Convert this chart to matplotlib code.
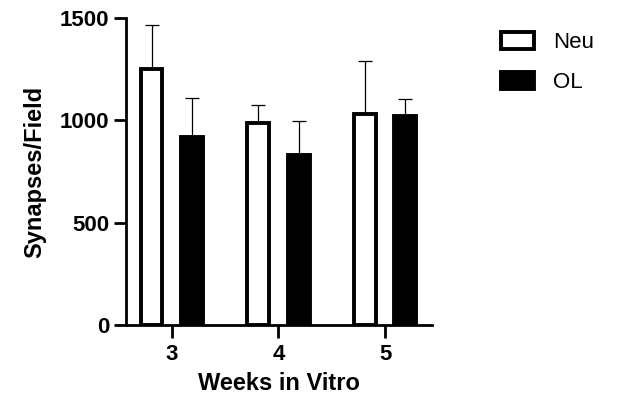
import numpy as np
import matplotlib
matplotlib.use("Agg")
from matplotlib import pyplot as plt

plt.rcParams['font.family'] = ['Liberation Sans', 'DejaVu Sans']

# data
weeks = [3, 4, 5]
week_labels = ['3', '4', '5']
neu_mean = [1250, 988, 1030]
neu_err = [217, 88, 260]
ol_mean = [920, 830, 1020]
ol_err = [189, 168, 86]

fig = plt.figure(figsize=(6.28, 4.05), dpi=100)
ax = fig.add_axes([0.2006, 0.1975, 0.4873, 0.7581])

x = np.array(weeks, dtype=float)
w = 0.205
off = 0.19
lw = 2.8

ax.errorbar(x - off, neu_mean, yerr=[np.zeros(3), neu_err], fmt='none',
            ecolor='black', elinewidth=0.9, capsize=5, capthick=0.9, zorder=1)
ax.errorbar(x + off, ol_mean, yerr=[np.zeros(3), ol_err], fmt='none',
            ecolor='black', elinewidth=0.9, capsize=5, capthick=0.9, zorder=1)
ax.bar(x - off, neu_mean, width=w, color='white', edgecolor='black',
       linewidth=lw, label='Neu', zorder=2)
ax.bar(x + off, ol_mean, width=w, color='black', edgecolor='black',
       linewidth=lw, label='OL', zorder=2)

ax.set_xlim(2.57, 5.44)
ax.set_ylim(0, 1500)
ax.set_yticks([0, 500, 1000, 1500])
ax.set_xticks(weeks)
ax.set_xticklabels(week_labels)

for s in ['top', 'right']:
    ax.spines[s].set_visible(False)
for s in ['left', 'bottom']:
    ax.spines[s].set_linewidth(2)
ax.tick_params(axis='both', width=2, length=9, labelsize=16)
for t in ax.get_xticklabels() + ax.get_yticklabels():
    t.set_fontweight('bold')
ax.tick_params(axis='x', pad=5)
ax.tick_params(axis='y', pad=3)

ax.set_xlabel('Weeks in Vitro', fontsize=17, fontweight='bold', labelpad=5)
ax.set_ylabel('Synapses/Field', fontsize=17, fontweight='bold', labelpad=10)

fig.legend(loc='upper left', bbox_to_anchor=(0.784, 0.942), frameon=False,
           fontsize=16, handlelength=1.47, handleheight=0.78, handletextpad=0.85,
           labelspacing=0.85, borderaxespad=0)

fig.savefig('out.png', dpi=100)
